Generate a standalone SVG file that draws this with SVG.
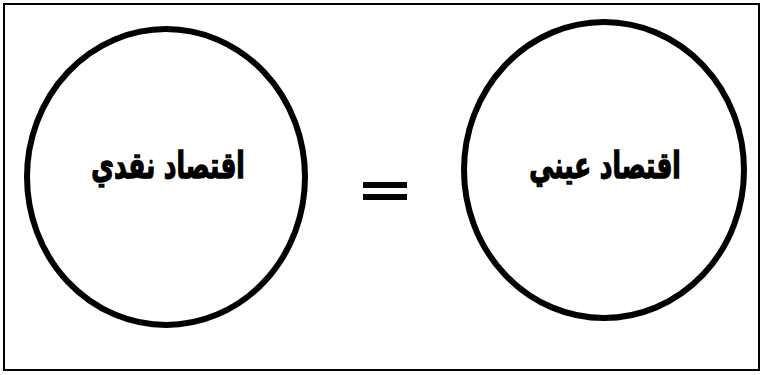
<svg xmlns="http://www.w3.org/2000/svg" width="764" height="375" viewBox="0 0 764 375">
<style>
.node ellipse{fill:#fff;stroke:#000;stroke-width:6}
.lbl{font-family:"DejaVu Sans",sans-serif;font-weight:bold;font-size:26px;fill:#000;stroke:#000;stroke-width:1;text-anchor:middle}
</style>
<rect x="0" y="0" width="764" height="375" fill="#fff"/>
<rect x="4" y="4" width="755" height="366" fill="none" stroke="#000" stroke-width="2"/>
<g id="left-node" class="node">
<ellipse cx="166" cy="177" rx="139" ry="148"/>
<text class="lbl" transform="translate(168,178) scale(0.95,1.4)" direction="rtl">اقتصاد نقدي</text>
</g>
<g id="right-node" class="node">
<ellipse cx="604" cy="170" rx="140" ry="148"/>
<text class="lbl" transform="translate(605,178) scale(0.95,1.4)" direction="rtl">اقتصاد عيني</text>
</g>
<g id="connectors">
<rect x="363" y="182" width="44" height="6" fill="#000"/>
<rect x="363" y="194" width="44" height="6" fill="#000"/>
</g>
</svg>
